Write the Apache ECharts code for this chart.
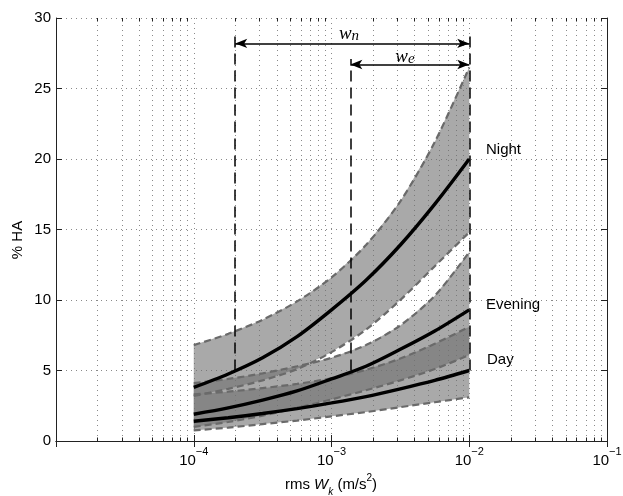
<!DOCTYPE html>
<html><head><meta charset="utf-8">
<script src="https://cdn.jsdelivr.net/npm/echarts@6/dist/echarts.min.js"></script>
<style>html,body{margin:0;padding:0;background:#fff}#c{width:623px;height:496px}</style>
</head><body><div id="c"></div>
<script>
// ---- data ----
const xs = [1e-4, 1.78e-4, 3.16e-4, 5.62e-4, 1e-3, 1.78e-3, 3.16e-3, 5.62e-3, 1e-2];
const nightMean  = [3.8, 4.75, 5.9, 7.4, 9.3, 11.4, 13.9, 16.8, 20.0];
const nightUpper = [6.8, 7.6, 8.6, 9.9, 11.6, 13.9, 17.0, 21.2, 26.5];
const nightLower = [3.2, 3.7, 4.3, 5.1, 6.3, 7.9, 10.0, 12.4, 14.8];
const eveMean  = [1.9, 2.35, 2.9, 3.55, 4.4, 5.3, 6.5, 7.8, 9.3];
const eveUpper = [4.1, 4.4, 4.8, 5.3, 5.9, 6.8, 8.2, 10.3, 13.4];
const eveLower = [1.0, 1.35, 1.8, 2.35, 2.95, 3.6, 4.3, 5.1, 6.1];
const dayMean  = [1.4, 1.65, 1.95, 2.3, 2.7, 3.15, 3.7, 4.3, 5.0];
const dayUpper = [3.3, 3.5, 3.75, 4.05, 4.45, 5.05, 5.85, 6.9, 8.1];
const dayLower = [0.75, 0.95, 1.2, 1.45, 1.75, 2.05, 2.4, 2.75, 3.1];

const xTickValues = [1e-5, 1e-4, 1e-3, 1e-2, 1e-1];
const xTickExponents = ['', '\u22124', '\u22123', '\u22122', '\u22121'];
const yTicks = [0, 5, 10, 15, 20, 25, 30];

// reference markers
const wnStart = 2e-4, weStart = 1.37e-3, wEnd = 1e-2;
const wnArrowY = 28.2, weArrowY = 26.7;
const wnBottom = 5.0, weBottom = 5.0, endBottom = 5.0;
const wnTop = 28.8, weTop = 27.1, endTop = 28.8;

const bandLabels = ['Night', 'Evening', 'Day'];

// ---- helpers ----
const pairs = (a) => xs.map((x, i) => [x, a[i]]);
const minorVals = [];
for (let d = -5; d <= -2; d++) for (let k = 2; k <= 9; k++) minorVals.push(k * Math.pow(10, d));

const FONT = 'Liberation Sans, Arial, Helvetica, sans-serif';

function bandSeries(upper, lower) {
  return {
    type: 'custom',
    z: 1,
    silent: true,
    data: [[1e-3, 1]],
    renderItem: function (params, api) {
      const pts = [];
      for (let i = 0; i < xs.length; i++) pts.push(api.coord([xs[i], upper[i]]));
      for (let i = xs.length - 1; i >= 0; i--) pts.push(api.coord([xs[i], lower[i]]));
      return {
        type: 'polygon',
        shape: { points: pts, smooth: 0 },
        style: { fill: 'rgba(112,112,112,0.6)', stroke: null }
      };
    }
  };
}
function boundLine(a) {
  return {
    type: 'line', data: pairs(a), smooth: 0.3, symbol: 'none', z: 3, silent: true,
    lineStyle: { color: '#6a6a6a', width: 2.2, type: [7, 4] }
  };
}
function meanLine(a) {
  return {
    type: 'line', data: pairs(a), smooth: 0.3, symbol: 'none', z: 4, silent: true,
    lineStyle: { color: '#000', width: 3.4 }
  };
}

// minor grid lines and minor ticks on the log axis (2..9 x each decade)
const minorSeries = {
  type: 'custom', silent: true, z: 0, data: [[1e-3, 1]],
  renderItem: function (params, api) {
    const children = [];
    minorVals.forEach(v => {
      const b = api.coord([v, 0]);
      const t = api.coord([v, 30]);
      const x = Math.round(b[0]) + 0.5;
      children.push({ type: 'line', shape: { x1: x, y1: b[1], x2: x, y2: t[1] },
        style: { stroke: '#8a8a8a', lineWidth: 1, lineDash: [1, 4] } });
      children.push({ type: 'line', z2: 10, shape: { x1: x, y1: b[1], x2: x, y2: b[1] - 3.5 },
        style: { stroke: '#222', lineWidth: 1 } });
      children.push({ type: 'line', z2: 10, shape: { x1: x, y1: t[1], x2: x, y2: t[1] + 3.5 },
        style: { stroke: '#222', lineWidth: 1 } });
    });
    return { type: 'group', children: children };
  }
};

const dashStyle = { color: '#000', width: 1.5, type: [11, 6] };
const arrowStyle = { color: '#000', width: 1.5, type: 'solid' };

const chart = echarts.init(document.getElementById('c'), null, { renderer: 'canvas' });
const option = {
  animation: false,
  backgroundColor: '#fff',
  grid: { left: 56, right: 16, top: 18, bottom: 55, containLabel: false, outerBoundsMode: 'none' },
  xAxis: [{
    type: 'log', logBase: 10, min: 1e-5, max: 1e-1,
    axisLine: { show: true, lineStyle: { color: '#222', width: 1 } },
    axisTick: { show: true, inside: true, length: 6, lineStyle: { color: '#222' } },
    splitLine: { show: true, lineStyle: { color: '#8a8a8a', type: [1, 4], width: 1 } },
    axisLabel: {
      margin: 5,
      formatter: function (v) {
        const i = xTickValues.findIndex(t => Math.abs(Math.log10(t) - Math.log10(v)) < 1e-6);
        if (i < 0 || !xTickExponents[i]) return '';
        return '{b|10}{s|' + xTickExponents[i] + '}';
      },
      rich: {
        b: { fontSize: 15, fontFamily: FONT, color: '#000', lineHeight: 22, verticalAlign: 'bottom' },
        s: { fontSize: 11, fontFamily: FONT, color: '#000', lineHeight: 22, verticalAlign: 'top' }
      }
    }
  }, {
    type: 'log', logBase: 10, min: 1e-5, max: 1e-1, position: 'top',
    axisLine: { show: true, lineStyle: { color: '#222', width: 1 } },
    axisTick: { show: true, inside: true, length: 6, lineStyle: { color: '#222' } },
    axisLabel: { show: false }, splitLine: { show: false }
  }],
  yAxis: [{
    type: 'value', min: 0, max: 30, interval: 5,
    axisLine: { show: true, lineStyle: { color: '#222', width: 1 } },
    axisTick: { show: true, inside: true, length: 6, lineStyle: { color: '#222' } },
    splitLine: { show: true, lineStyle: { color: '#8a8a8a', type: [1, 4], width: 1 } },
    axisLabel: {
      margin: 5, fontSize: 15, fontFamily: FONT, color: '#000',
      formatter: v => (yTicks.indexOf(v) >= 0 ? String(v) : '')
    }
  }, {
    type: 'value', min: 0, max: 30, interval: 5, position: 'right',
    axisLine: { show: true, lineStyle: { color: '#222', width: 1 } },
    axisTick: { show: true, inside: true, length: 6, lineStyle: { color: '#222' } },
    axisLabel: { show: false }, splitLine: { show: false }
  }],
  series: [
    minorSeries,
    bandSeries(nightUpper, nightLower),
    bandSeries(eveUpper, eveLower),
    bandSeries(dayUpper, dayLower),
    boundLine(nightUpper), boundLine(nightLower),
    boundLine(eveUpper), boundLine(eveLower),
    boundLine(dayUpper), boundLine(dayLower),
    meanLine(nightMean), meanLine(eveMean), meanLine(dayMean),
    {
      type: 'line', data: pairs(nightMean), symbol: 'none', lineStyle: { opacity: 0 }, silent: true, z: 6,
      markLine: {
        silent: true, animation: false, label: { show: false },
        data: [
          [{ coord: [wnStart, wnBottom], symbol: 'none' }, { coord: [wnStart, wnTop], symbol: 'none', lineStyle: dashStyle }],
          [{ coord: [weStart, weBottom], symbol: 'none' }, { coord: [weStart, weTop], symbol: 'none', lineStyle: dashStyle }],
          [{ coord: [wEnd, endBottom], symbol: 'none' }, { coord: [wEnd, endTop], symbol: 'none', lineStyle: dashStyle }],
          [{ coord: [wnStart, wnArrowY], symbol: 'arrow', symbolSize: [7, 12] }, { coord: [wEnd, wnArrowY], symbol: 'arrow', symbolSize: [7, 12], lineStyle: arrowStyle }],
          [{ coord: [weStart, weArrowY], symbol: 'arrow', symbolSize: [7, 12] }, { coord: [wEnd, weArrowY], symbol: 'arrow', symbolSize: [7, 12], lineStyle: arrowStyle }]
        ],
        lineStyle: { color: '#000', width: 1.5 },
        itemStyle: { color: '#000' }
      }
    }
  ],
  graphic: [
    { type: 'text', x: 486, y: 150, style: { text: bandLabels[0], font: '15px ' + FONT, fill: '#000', align: 'left', verticalAlign: 'middle' } },
    { type: 'text', x: 486, y: 305, style: { text: bandLabels[1], font: '15px ' + FONT, fill: '#000', align: 'left', verticalAlign: 'middle' } },
    { type: 'text', x: 487, y: 360, style: { text: bandLabels[2], font: '15px ' + FONT, fill: '#000', align: 'left', verticalAlign: 'middle' } },
    { type: 'text', x: 349, y: 34, style: {
      text: '{w|w}{n|n}', align: 'center', verticalAlign: 'middle',
      rich: {
        w: { font: 'italic 19px Liberation Serif, DejaVu Serif, serif', fill: '#000', lineHeight: 20, verticalAlign: 'top' },
        n: { font: 'italic 15px Liberation Serif, DejaVu Serif, serif', fill: '#000', lineHeight: 20, verticalAlign: 'bottom' }
      } } },
    { type: 'text', x: 405, y: 57, style: {
      text: '{w|w}{n|e}', align: 'center', verticalAlign: 'middle',
      rich: {
        w: { font: 'italic 19px Liberation Serif, DejaVu Serif, serif', fill: '#000', lineHeight: 20, verticalAlign: 'top' },
        n: { font: 'italic 15px Liberation Serif, DejaVu Serif, serif', fill: '#000', lineHeight: 20, verticalAlign: 'bottom' }
      } } },
    { type: 'text', x: 18, y: 240, rotation: Math.PI / 2, style: { text: '% HA', font: '15px ' + FONT, fill: '#000', align: 'center', verticalAlign: 'middle' } },
    { type: 'text', x: 331, y: 485, style: {
      text: '{n|rms }{i|W}{sub|k}{n| (m/s}{sup|2}{n|)}', align: 'center', verticalAlign: 'middle',
      rich: {
        n: { font: '15px ' + FONT, fill: '#000', lineHeight: 24, verticalAlign: 'middle' },
        i: { font: 'italic 15px ' + FONT, fill: '#000', lineHeight: 24, verticalAlign: 'middle' },
        sub: { font: 'italic 10px ' + FONT, fill: '#000', lineHeight: 24, verticalAlign: 'bottom' },
        sup: { font: '10px ' + FONT, fill: '#000', lineHeight: 24, verticalAlign: 'top' }
      } } }
  ]
};
chart.setOption(option);
</script>
</body></html>
